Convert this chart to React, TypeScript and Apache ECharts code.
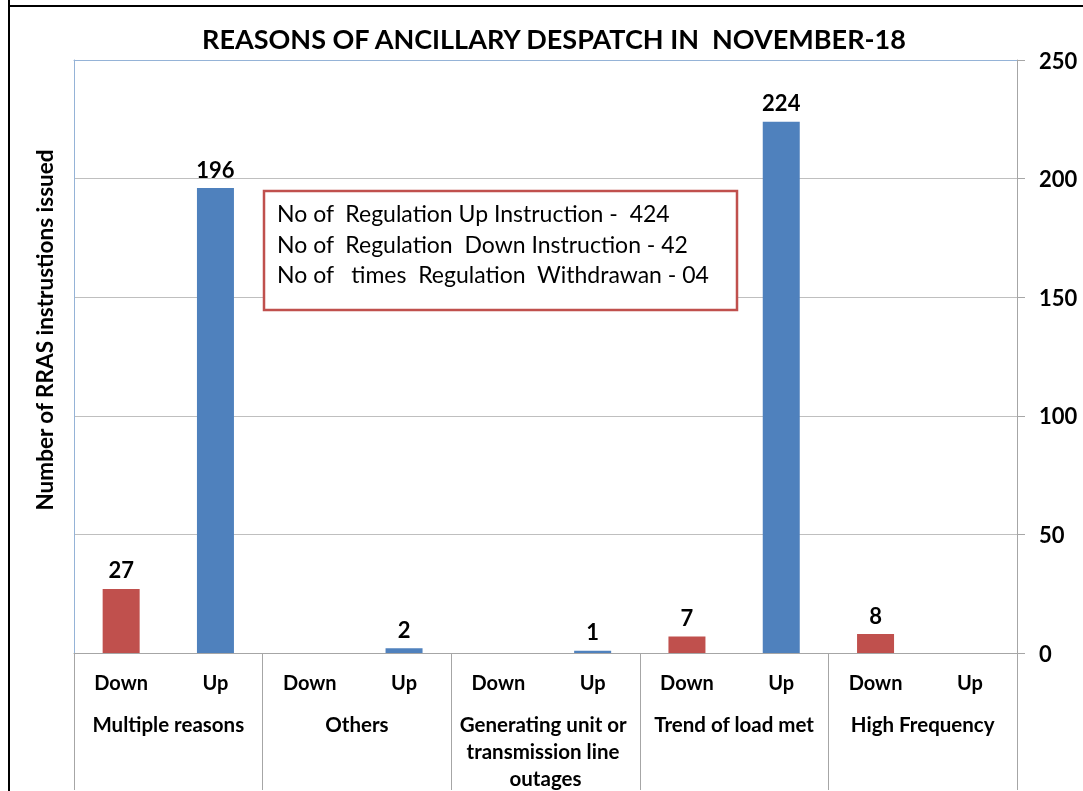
import React, { useEffect, useRef } from "react";
import * as echarts from "echarts";

const titleText = "REASONS OF ANCILLARY DESPATCH IN  NOVEMBER-18";
const yAxisTitle = "Number of RRAS instrustions issued";
const groups = ["Multiple reasons", "Others", "Generating unit or transmission line outages", "Trend of load met", "High Frequency"];
const directions = ["Down", "Up"];
const values = [27, 196, 0, 2, 0, 1, 7, 224, 8, 0];
const noteLines = [
  "No of  Regulation Up Instruction -  424",
  "No of  Regulation  Down Instruction - 42",
  "No of   times  Regulation  Withdrawan - 04",
];
const yTicks = { min: 0, max: 250, interval: 50 };

const RED = "#c0504d";
const BLUE = "#4f81bd";
const FONT = "Lato, 'Open Sans', sans-serif";

export default function App() {
  const ref = useRef<HTMLDivElement>(null);
  useEffect(() => {
    if (!ref.current) return;
    const chart = echarts.init(ref.current, null, { renderer: "svg" });
    const cats: string[] = [];
    groups.forEach(() => directions.forEach((d) => cats.push(d)));
    const data = values.map((v, i) => ({
      value: v,
      itemStyle: { color: directions[i % 2] === "Down" ? RED : BLUE },
    }));
    chart.setOption({
      animation: false,
      textStyle: { fontFamily: FONT },
      title: {
        text: titleText,
        left: 549,
        top: 20,
        textAlign: "center",
        textStyle: { fontSize: 27, fontWeight: "bold", color: "#000", fontFamily: FONT },
      },
      grid: { left: 74, right: 66, top: 60, bottom: 137, containLabel: false },
      xAxis: [
        {
          type: "category",
          data: cats,
          position: "bottom",
          axisLine: { show: true, lineStyle: { color: "#a6a6a6", width: 1 } },
          axisTick: { show: false },
          axisLabel: {
            interval: 0,
            margin: 19,
            color: "#000",
            fontSize: 20,
            fontWeight: "bold",
            fontFamily: FONT,
          },
        },
        {
          type: "category",
          data: groups,
          position: "bottom",
          axisLine: { show: false },
          axisTick: { show: true, length: 137, inside: false, lineStyle: { color: "#a6a6a6", width: 1 } },
          axisLabel: {
            interval: 0,
            margin: 57,
            color: "#000",
            fontSize: 20.5,
            fontWeight: "bold",
            fontFamily: FONT,
            width: 182,
            overflow: "break",
            lineHeight: 27,
            align: "center",
          },
        },
        {
          type: "category",
          data: groups,
          position: "top",
          axisLine: { show: true, lineStyle: { color: "#95b3d7", width: 1 } },
          axisTick: { show: false },
          axisLabel: { show: false },
        },
      ],
      yAxis: [
        {
          type: "value",
          position: "right",
          min: yTicks.min,
          max: yTicks.max,
          interval: yTicks.interval,
          axisLine: { show: true, lineStyle: { color: "#a6a6a6" } },
          axisTick: { show: true, length: 8, inside: false, lineStyle: { color: "#a6a6a6" } },
          axisLabel: { margin: 22, color: "#000", fontSize: 22, fontWeight: "bold", fontFamily: FONT },
          splitLine: { show: true, lineStyle: { color: "#bfbfbf", width: 1 } },
        },
        {
          type: "value",
          position: "left",
          min: yTicks.min,
          max: yTicks.max,
          interval: yTicks.interval,
          axisLine: { show: true, lineStyle: { color: "#95b3d7" } },
          axisTick: { show: false },
          axisLabel: { show: false },
          splitLine: { show: false },
        },
      ],
      series: [
        {
          type: "bar",
          xAxisIndex: 0,
          yAxisIndex: 0,
          data,
          barWidth: 37,
          label: {
            show: true,
            position: "top",
            distance: 8,
            color: "#000",
            fontSize: 22,
            fontWeight: "bold",
            fontFamily: FONT,
            formatter: (p: any) => (p.value === 0 ? "" : String(p.value)),
          },
        },
      ],
      graphic: [
        { type: "line", shape: { x1: 9, y1: 0, x2: 9, y2: 791 }, style: { stroke: "#000", lineWidth: 2 } },
        { type: "line", shape: { x1: 8, y1: 6, x2: 1083, y2: 6 }, style: { stroke: "#000", lineWidth: 2 } },
        {
          type: "text",
          x: 44,
          y: 330,
          rotation: Math.PI / 2,
          style: {
            text: yAxisTitle,
            fontSize: 22.5,
            fontWeight: "bold",
            fontFamily: FONT,
            fill: "#000",
            align: "center",
            verticalAlign: "middle",
          },
        },
        {
          type: "rect",
          shape: { x: 264, y: 191, width: 473, height: 119 },
          style: { fill: "#fff", stroke: RED, lineWidth: 2.5 },
          z: 10,
        },
        {
          type: "text",
          x: 277,
          y: 198,
          z: 11,
          style: {
            text: noteLines.join("\n"),
            fontSize: 23,
            lineHeight: 30.5,
            fontFamily: FONT,
            fill: "#000",
            verticalAlign: "top",
          },
        },
      ],
    });
    return () => chart.dispose();
  }, []);
  return <div ref={ref} style={{ position: "fixed", left: 0, top: 0, width: 1083, height: 791 }} />;
}
